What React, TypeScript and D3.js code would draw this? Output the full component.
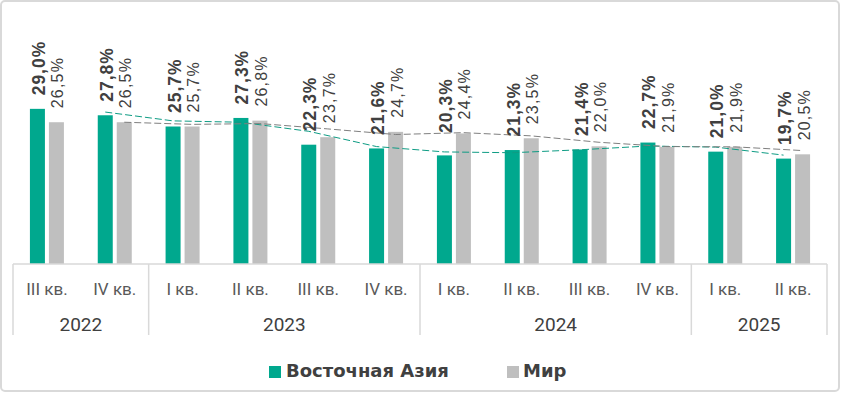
import React from "react";
import * as d3 from "d3";

const quarters = ["III кв.", "IV кв.", "I кв.", "II кв.", "III кв.", "IV кв.", "I кв.", "II кв.", "III кв.", "IV кв.", "I кв.", "II кв."];
const years = ["2022", "2023", "2024", "2025"];
const yearSpans = [2, 4, 4, 2];
const eastAsia = [29.0, 27.8, 25.7, 27.3, 22.3, 21.6, 20.3, 21.3, 21.4, 22.7, 21.0, 19.7];
const world = [26.5, 26.5, 25.7, 26.8, 23.7, 24.7, 24.4, 23.5, 22.0, 21.9, 21.9, 20.5];
const seriesNames = ["Восточная Азия", "Мир"];

const GREEN = "#00A88E";
const GRAY = "#BFBFBF";
const TEXT = "#404040";
const LINE = "#D9D9D9";
const LABEL_FONT = "'Liberation Sans', Arial, sans-serif";
const AXIS_FONT = "Roboto, 'Liberation Sans', sans-serif";
const LEGEND_FONT = "'DejaVu Sans', 'Liberation Sans', sans-serif";

const fmt = (v: number) => v.toFixed(1).replace(".", ",") + "%";

// manual label lifts seen in the reference (pixels)
const greenLabelLift: Record<number, number> = { 6: 9 };

export default function App() {
  const W = 841, H = 393;
  const left = 13, right = 827, axisY = 264;
  const x = d3.scaleBand<number>().domain(d3.range(quarters.length)).range([left, right]).paddingInner(0).paddingOuter(0);
  const y = d3.scaleLinear().domain([0, 40]).range([axisY, 50]);
  const bw = 15, gap = 4;
  const gx = (i: number) => x(i)! + x.bandwidth() / 2 - gap / 2 - bw;
  const wx = (i: number) => x(i)! + x.bandwidth() / 2 + gap / 2;

  const ma = (arr: number[]) => d3.range(1, arr.length).map((i) => [i, (arr[i - 1] + arr[i]) / 2] as [number, number]);
  const greenLine = d3.line<[number, number]>().x((d) => gx(d[0]) + bw / 2).y((d) => y(d[1]))(ma(eastAsia));
  const grayLine = d3.line<[number, number]>().x((d) => wx(d[0]) + bw / 2).y((d) => y(d[1]))(ma(world));

  let acc = 0;
  const yearBounds = yearSpans.map((s) => { const a = acc; acc += s; return [a, acc]; });
  const edge = (k: number) => (k >= quarters.length ? right : x(k)!);

  return (
    <svg width={W} height={H} style={{ position: "absolute", left: 0, top: 0, display: "block" }}>
      <rect x={1} y={1} width={W - 3} height={H - 3} rx={4} fill="#fff" stroke={LINE} strokeWidth={2} />
      {eastAsia.map((v, i) => (
        <g key={"g" + i}>
          <rect x={gx(i)} y={y(v)} width={bw} height={axisY - y(v)} fill={GREEN} />
          <rect x={wx(i)} y={y(world[i])} width={bw} height={axisY - y(world[i])} fill={GRAY} />
        </g>
      ))}
      <path d={greenLine!} fill="none" stroke="#0E9C84" strokeWidth={1} strokeDasharray="7,3" />
      <path d={grayLine!} fill="none" stroke="#7F7F7F" strokeWidth={1} strokeDasharray="7,3" />
      {eastAsia.map((v, i) => (
        <g key={"l" + i} fontFamily={LABEL_FONT}>
          <text transform={`translate(${gx(i) + bw / 2 + 7.5},${y(v) - 13.5 - (greenLabelLift[i] || 0)}) rotate(-90)`} fontSize={17.5} letterSpacing={1} fontWeight="bold" fill={TEXT}>{fmt(v)}</text>
          <text transform={`translate(${wx(i) + bw / 2 + 7},${y(world[i]) - 14}) rotate(-90)`} fontSize={16} letterSpacing={1.2} fill={TEXT}>{fmt(world[i])}</text>
        </g>
      ))}
      <line x1={left} x2={right} y1={axisY} y2={axisY} stroke={LINE} strokeWidth={1.5} />
      {yearBounds.map(([a, b], k) => (
        <g key={"y" + k}>
          <line x1={edge(a)} x2={edge(a)} y1={axisY} y2={335} stroke={LINE} strokeWidth={1.5} />
          {k === yearBounds.length - 1 && <line x1={edge(b)} x2={edge(b)} y1={axisY} y2={335} stroke={LINE} strokeWidth={1.5} />}
          <text x={(edge(a) + edge(b)) / 2} y={331} textAnchor="middle" fontFamily={AXIS_FONT} fontSize={19} fill="#404040">{years[k]}</text>
        </g>
      ))}
      {quarters.map((q, i) => (
        <text key={"q" + i} x={x(i)! + x.bandwidth() / 2} y={295} textAnchor="middle" fontFamily={AXIS_FONT} fontSize={17} fill="#595959">{q}</text>
      ))}
      <rect x={269} y={366} width={12} height={12} fill={GREEN} />
      <text x={286} y={377} fontFamily={LEGEND_FONT} fontSize={18} fontWeight="bold" fill={TEXT}>{seriesNames[0]}</text>
      <rect x={507} y={366} width={12} height={12} fill={GRAY} />
      <text x={523} y={377} fontFamily={LEGEND_FONT} fontSize={18} fontWeight="bold" fill={TEXT}>{seriesNames[1]}</text>
    </svg>
  );
}
